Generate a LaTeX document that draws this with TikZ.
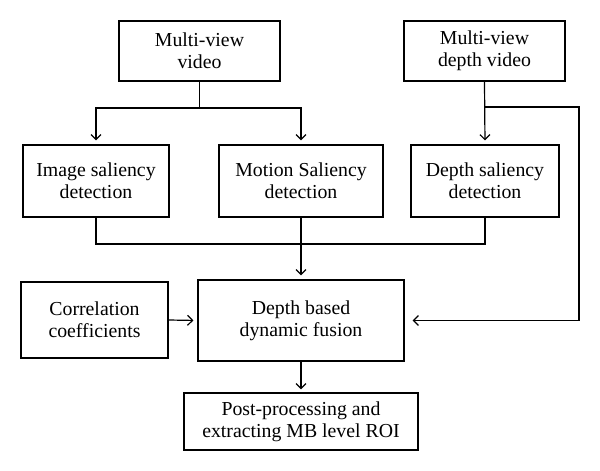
\documentclass[tikz,border=0pt]{standalone}
\usepackage{fontspec}
\setmainfont{Liberation Serif}
\usetikzlibrary{arrows.meta}

\begin{document}
\begin{tikzpicture}
                        [x=1pt,y=-1pt,line width=1.2pt,
                         box/.style={draw,align=center,inner sep=0pt,font=\fontsize{19.8}{22}\selectfont},
                         >={Straight Barb[length=5pt,width=10pt]}]
                        \useasboundingbox (0,0) rectangle (600,471);
                        \node[box,minimum width=161pt,minimum height=60pt] (mvv) at (199.5,51) {Multi-view\\video};
                        \node[box,minimum width=161pt,minimum height=60pt] (mvd) at (484.5,51) {Multi-view\\depth video};
                        \node[box,minimum width=146pt,minimum height=72pt] (img) at (96,181) {Image saliency\\detection};
                        \node[box,minimum width=164pt,minimum height=72pt] (mot) at (301,181) {Motion Saliency\\detection};
                        \node[box,minimum width=148pt,minimum height=72pt] (dep) at (485,181) {Depth saliency\\detection};
                        \node[box,minimum width=147pt,minimum height=76pt] (cor) at (94.5,320) {Correlation\\coefficients};
                        \node[box,minimum width=206pt,minimum height=81pt] (fus) at (301,320.5) {Depth based\\dynamic fusion};
                        \node[box,minimum width=234pt,minimum height=57pt] (post) at (301,421.5) {Post-processing and\\extracting MB level ROI};
                        \coordinate (split) at (199.5,108);
                        \coordinate (join) at (301,244);
                        \coordinate (turn) at (579,107);
                        \draw (mvv.south) -- (split);
                        \foreach \to in {img,mot}
                        \draw[->,shorten >=4pt] (split) -| (\to.north);
                        \draw[->,shorten >=4pt] (mvd.south) -- (dep.north);
                        \draw[->,shorten >=8pt] (mvd.south |- turn) -- (turn) |- (fus.east);
                        \foreach \from in {img,dep}
                        \draw (\from.south) |- (join);
                        \draw[->,shorten >=4pt] (mot.south) -- (fus.north);
                        \draw[->,shorten >=4pt] (cor.east) -- (fus.west);
                        \draw[->,shorten >=3pt] (fus.south) -- (post.north);
                    \end{tikzpicture}
\end{document}
